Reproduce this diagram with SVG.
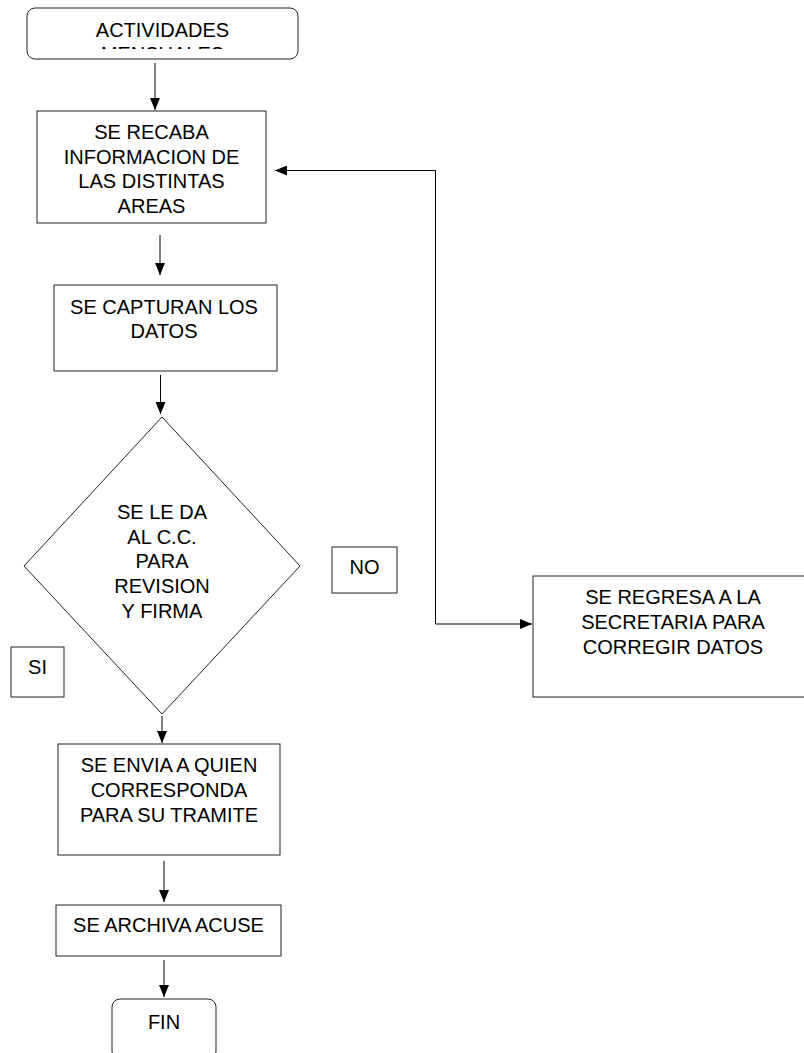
<svg xmlns="http://www.w3.org/2000/svg" width="804" height="1053" viewBox="0 0 804 1053">
<style>
.box{fill:#fff;stroke:#222;stroke-width:1}
.t{font-family:"Liberation Sans",Arial,sans-serif;font-size:20px;fill:#000;text-anchor:middle}
.c{fill:none;stroke:#000;stroke-width:1}
</style>
<defs>
<marker id="ah" markerUnits="userSpaceOnUse" markerWidth="12" markerHeight="10" refX="12" refY="5" orient="auto-start-reverse" viewBox="0 0 12 10">
<path d="M0,0 L12,5 L0,10 z" fill="#000"/>
</marker>
<clipPath id="clipTop"><rect x="27" y="8" width="271" height="41"/></clipPath>
</defs>
<rect width="804" height="1053" fill="#fff"/>
<g id="connectors">
<path class="c" d="M155,63 V110" marker-end="url(#ah)"/>
<path class="c" d="M160,235 V275" marker-end="url(#ah)"/>
<path class="c" d="M160.5,375 V414" marker-end="url(#ah)"/>
<path class="c" d="M162,716 V743" marker-end="url(#ah)"/>
<path class="c" d="M164,861 V902" marker-end="url(#ah)"/>
<path class="c" d="M164,960 V997" marker-end="url(#ah)"/>
<path class="c" d="M532,624 H435.5 V170.5 H275" marker-start="url(#ah)" marker-end="url(#ah)"/>
</g>
<g id="start">
<rect class="box" x="27" y="8" width="271" height="51" rx="8"/>
<g clip-path="url(#clipTop)">
<text class="t" x="162.5" y="36.5">ACTIVIDADES</text>
<text class="t" x="162.5" y="61">MENSUALES</text>
</g>
</g>
<g id="recaba">
<rect class="box" x="37" y="111" width="229" height="112"/>
<text class="t" x="151.5" y="139">SE RECABA</text>
<text class="t" x="151.5" y="163.5">INFORMACION DE</text>
<text class="t" x="151.5" y="188">LAS DISTINTAS</text>
<text class="t" x="151.5" y="212.5">AREAS</text>
</g>
<g id="captura">
<rect class="box" x="54" y="285" width="223" height="86"/>
<text class="t" x="164" y="313.5">SE CAPTURAN LOS</text>
<text class="t" x="164" y="338">DATOS</text>
</g>
<g id="decision">
<polygon class="box" points="162,417 300,566 162,714 24,566"/>
<text class="t" x="162" y="518.5">SE LE DA</text>
<text class="t" x="162" y="543.5">AL C.C.</text>
<text class="t" x="162" y="568">PARA</text>
<text class="t" x="162" y="593">REVISION</text>
<text class="t" x="162" y="617.5">Y FIRMA</text>
</g>
<g id="no">
<rect class="box" x="332" y="547" width="65" height="46"/>
<text class="t" x="364.5" y="574">NO</text>
</g>
<g id="si">
<rect class="box" x="11" y="647" width="53" height="50"/>
<text class="t" x="37.5" y="674">SI</text>
</g>
<g id="envia">
<rect class="box" x="58" y="744" width="222" height="111"/>
<text class="t" x="169" y="772">SE ENVIA A QUIEN</text>
<text class="t" x="169" y="797">CORRESPONDA</text>
<text class="t" x="169" y="822">PARA SU TRAMITE</text>
</g>
<g id="archiva">
<rect class="box" x="56" y="905" width="225" height="51"/>
<text class="t" x="168.5" y="932">SE ARCHIVA ACUSE</text>
</g>
<g id="fin">
<rect class="box" x="112" y="999" width="104" height="60" rx="8"/>
<text class="t" x="164" y="1029">FIN</text>
</g>
<g id="regresa">
<rect class="box" x="533" y="576" width="285" height="121"/>
<text class="t" x="673" y="604">SE REGRESA A LA</text>
<text class="t" x="673" y="629">SECRETARIA PARA</text>
<text class="t" x="673" y="654">CORREGIR DATOS</text>
</g>
</svg>
